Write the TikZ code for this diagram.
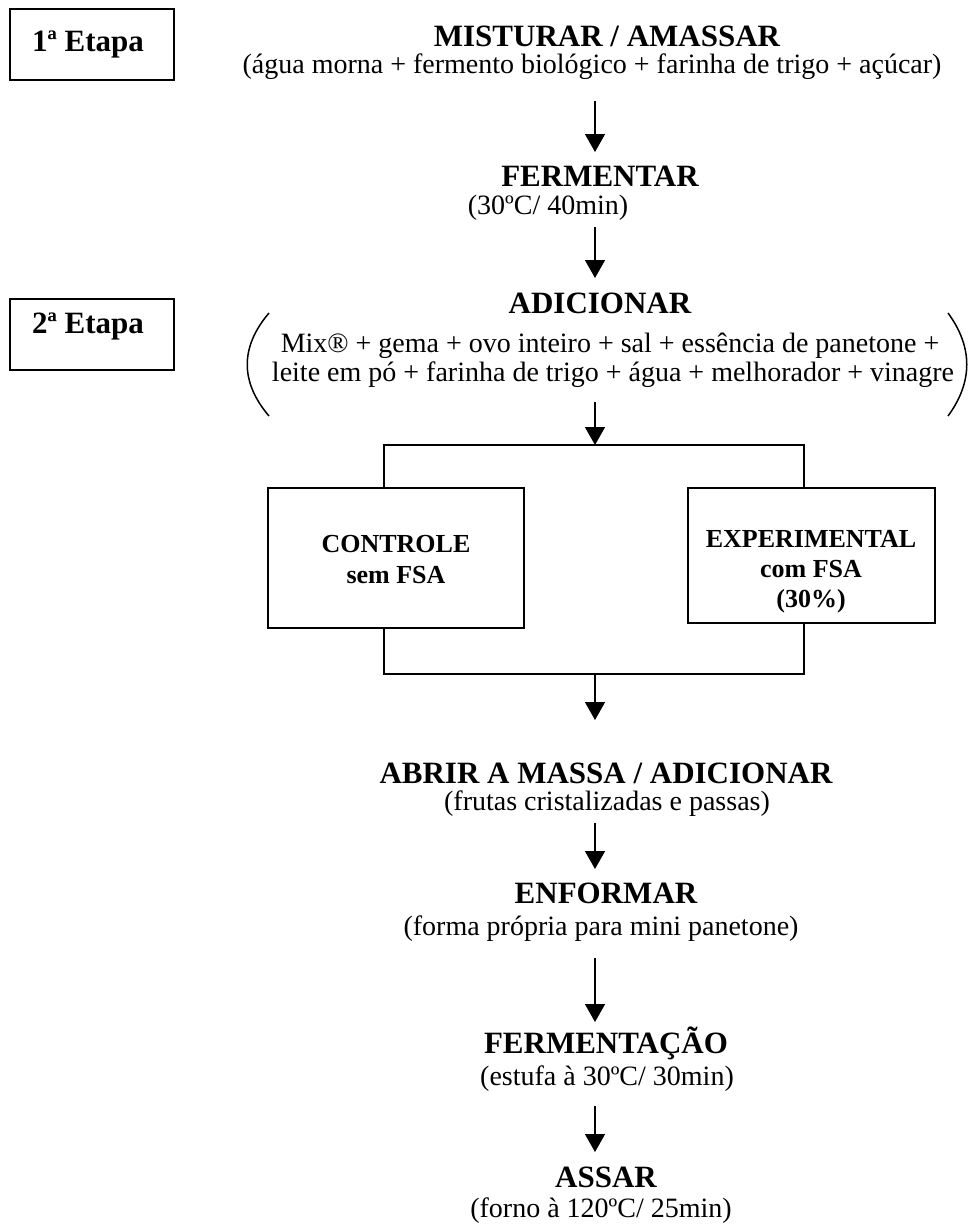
\documentclass[tikz,border=0pt]{standalone}
\usepackage{fontspec}
\setmainfont{Liberation Serif}
\usetikzlibrary{arrows.meta}
\tikzset{
  hd/.style={font=\fontsize{31}{36}\selectfont\bfseries, inner sep=0pt, anchor=base},
  bd/.style={font=\fontsize{28}{32}\selectfont, inner sep=0pt, anchor=base},
  bxt/.style={font=\fontsize{26}{31}\selectfont\bfseries, inner sep=0pt, anchor=base},
  etapa/.style={draw, line width=2pt, minimum width=164pt, minimum height=71pt, inner sep=0pt},
  grp/.style={draw, line width=2pt, inner sep=0pt},
  arr/.style={line width=1.5pt, -{Triangle[width=20pt,length=18pt]}},
  ln/.style={line width=1.5pt},
  paren/.style={line width=1.5pt}
}
\begin{document}
\begin{tikzpicture}[x=1pt,y=-1pt]
\useasboundingbox[fill=white] (0,0) rectangle (969,1226);

% stage boxes
\node[etapa] (et1) at (92,44.5) {};
\node[hd] (et1t) at (88,51) {1ª Etapa};
\node[etapa] (et2) at (92,334.5) {};
\node[hd] (et2t) at (88,333) {2ª Etapa};

% step 1
\node[hd] (mist) at (607,46) {MISTURAR / AMASSAR};
\node[bd] (agua) at (592,73) {(água morna + fermento biológico + farinha de trigo + açúcar)};
\coordinate (a1s) at (595,101);
\coordinate (a1e) at (595,152);
\node[hd] (ferm) at (600,186) {FERMENTAR};
\node[bd] (fermt) at (548,214) {(30ºC/ 40min)};
\coordinate (a2s) at (595,227);
\coordinate (a2e) at (595,278);

% step 2
\node[hd] (adic) at (600,313) {ADICIONAR};
\node[bd] (mixa) at (610,352) {Mix® + gema + ovo inteiro + sal + essência de panetone +};
\node[bd] (mixb) at (613,381) {leite em pó + farinha de trigo + água + melhorador + vinagre};
\coordinate (pl1) at (269,313);
\coordinate (pl2) at (269,416);
\coordinate (pr1) at (948,313);
\coordinate (pr2) at (948,416);
\draw[paren] (pl1) .. controls (240,347) and (240,382) .. (pl2);
\draw[paren] (pr1) .. controls (973,347) and (973,382) .. (pr2);

\coordinate (a3s) at (595,402);
\coordinate (a3e) at (595,445);

% branches
\node[grp, minimum width=256pt, minimum height=140pt] (ctl) at (396,558) {};
\node[bxt] (ctl1) at (396,552) {CONTROLE};
\node[bxt] (ctl2) at (396,583) {sem FSA};
\node[grp, minimum width=247pt, minimum height=135pt] (exp) at (811.5,555.5) {};
\node[bxt] (exp1) at (811,547) {EXPERIMENTAL};
\node[bxt] (exp2) at (811,577) {com FSA};
\node[bxt] (exp3) at (811,607) {(30\%)};

\coordinate (bl) at (384,445);
\coordinate (br) at (804,445);
\coordinate (jl) at (384,674);
\coordinate (jr) at (804,674);
\coordinate (jm) at (595,674);
\coordinate (a4e) at (595,720);

\draw[ln] (ctl.north -| bl) -- (bl) -- (br) -- (exp.north -| br);
\draw[ln] (ctl.south -| jl) -- (jl) -- (jr) -- (exp.south -| jr);

% later steps
\node[hd] (abrir) at (606,783) {ABRIR A MASSA / ADICIONAR};
\node[bd] (frut) at (607,810) {(frutas cristalizadas e passas)};
\coordinate (a5s) at (595,823);
\coordinate (a5e) at (595,869);
\node[hd] (enf) at (606,903) {ENFORMAR};
\node[bd] (forma) at (601,935) {(forma própria para mini panetone)};
\coordinate (a6s) at (595,958);
\coordinate (a6e) at (595,1022);
\node[hd] (fmt) at (606,1053) {FERMENTAÇÃO};
\node[bd] (estufa) at (607,1085) {(estufa à 30ºC/ 30min)};
\coordinate (a7s) at (595,1106);
\coordinate (a7e) at (595,1152);
\node[hd] (assar) at (606,1187) {ASSAR};
\node[bd] (forno) at (601,1217) {(forno à 120ºC/ 25min)};

\draw[arr] (a1s) -- (a1e);
\draw[arr] (a2s) -- (a2e);
\draw[arr] (a3s) -- (a3e);
\draw[arr] (jm) -- (a4e);
\draw[arr] (a5s) -- (a5e);
\draw[arr] (a6s) -- (a6e);
\draw[arr] (a7s) -- (a7e);
\end{tikzpicture}
\end{document}
